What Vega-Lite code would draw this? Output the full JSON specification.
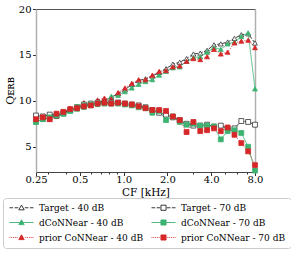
{
  "$schema": "https://vega.github.io/schema/vega-lite/v6.json",
  "width": 219,
  "height": 163,
  "autosize": {"type": "none"},
  "padding": {"left": 36, "top": 9, "right": 36, "bottom": 83},
  "config": {
    "font": "DejaVu Serif",
    "view": {"stroke": "#555", "strokeWidth": 1},
    "axis": {"labelFont": "DejaVu Serif", "labelFontSize": 10, "labelColor": "#000", "titleFont": "DejaVu Serif", "titleFontSize": 11, "titleFontWeight": "normal", "titleColor": "#000", "tickColor": "#333", "domainColor": "#444", "grid": false},
    "legend": {"labelFont": "DejaVu Serif", "labelFontSize": 9, "labelColor": "#000"}
  },
  "data": {"values": [
    {"f":0.25,"T40":8.4,"D40":7.7,"P40":8.0,"T70":8.4,"D70":7.7,"P70":8.0},
    {"f":0.2786,"T40":8.3,"D40":8.0,"P40":8.2,"T70":8.3,"D70":8.0,"P70":8.2},
    {"f":0.3104,"T40":8.5,"D40":8.2,"P40":8.0,"T70":8.5,"D70":8.2,"P70":8.0},
    {"f":0.346,"T40":8.4,"D40":8.4,"P40":8.3,"T70":8.4,"D70":8.4,"P70":8.6},
    {"f":0.3855,"T40":8.6,"D40":8.6,"P40":8.7,"T70":8.7,"D70":8.6,"P70":8.8},
    {"f":0.4296,"T40":9.0,"D40":8.9,"P40":9.2,"T70":9.0,"D70":8.9,"P70":9.1},
    {"f":0.4788,"T40":9.2,"D40":9.1,"P40":9.4,"T70":9.3,"D70":9.3,"P70":9.2},
    {"f":0.5336,"T40":9.5,"D40":9.3,"P40":9.8,"T70":9.6,"D70":9.5,"P70":9.4},
    {"f":0.5946,"T40":9.6,"D40":9.5,"P40":9.5,"T70":9.7,"D70":9.6,"P70":9.5},
    {"f":0.6626,"T40":9.8,"D40":9.6,"P40":10.1,"T70":9.8,"D70":9.7,"P70":9.7},
    {"f":0.7384,"T40":10.0,"D40":9.9,"P40":10.3,"T70":9.8,"D70":9.7,"P70":9.8},
    {"f":0.8229,"T40":10.4,"D40":10.5,"P40":10.2,"T70":9.8,"D70":9.7,"P70":9.7},
    {"f":0.917,"T40":10.8,"D40":10.6,"P40":10.9,"T70":9.8,"D70":9.7,"P70":9.8},
    {"f":1.0219,"T40":11.2,"D40":11.0,"P40":11.4,"T70":9.7,"D70":9.6,"P70":9.7},
    {"f":1.1388,"T40":11.8,"D40":11.4,"P40":11.9,"T70":9.6,"D70":9.5,"P70":9.6},
    {"f":1.2691,"T40":12.2,"D40":11.8,"P40":12.3,"T70":9.5,"D70":9.3,"P70":9.4},
    {"f":1.4142,"T40":12.4,"D40":12.1,"P40":12.3,"T70":9.3,"D70":9.2,"P70":9.2},
    {"f":1.576,"T40":12.7,"D40":12.3,"P40":12.8,"T70":9.0,"D70":8.7,"P70":9.0},
    {"f":1.7563,"T40":13.1,"D40":12.8,"P40":13.2,"T70":8.7,"D70":8.9,"P70":9.0},
    {"f":1.9572,"T40":13.5,"D40":13.2,"P40":13.3,"T70":8.5,"D70":7.9,"P70":8.9},
    {"f":2.181,"T40":14.0,"D40":13.6,"P40":13.7,"T70":8.2,"D70":8.3,"P70":8.3},
    {"f":2.4306,"T40":14.2,"D40":13.7,"P40":13.8,"T70":7.9,"D70":7.7,"P70":7.9},
    {"f":2.7086,"T40":14.6,"D40":14.3,"P40":14.3,"T70":7.5,"D70":7.4,"P70":6.6},
    {"f":3.0185,"T40":15.1,"D40":14.7,"P40":14.6,"T70":7.3,"D70":7.5,"P70":7.7},
    {"f":3.3636,"T40":15.2,"D40":14.8,"P40":14.5,"T70":7.3,"D70":7.3,"P70":6.7},
    {"f":3.7484,"T40":15.5,"D40":15.3,"P40":14.8,"T70":7.4,"D70":7.3,"P70":6.8},
    {"f":4.1771,"T40":16.1,"D40":15.8,"P40":15.6,"T70":7.2,"D70":7.2,"P70":7.0},
    {"f":4.655,"T40":16.2,"D40":15.6,"P40":15.1,"T70":7.3,"D70":5.8,"P70":6.7},
    {"f":5.1874,"T40":16.4,"D40":16.2,"P40":15.3,"T70":7.0,"D70":6.7,"P70":7.1},
    {"f":5.7808,"T40":16.8,"D40":16.4,"P40":16.3,"T70":7.0,"D70":6.8,"P70":6.3},
    {"f":6.442,"T40":17.2,"D40":17.0,"P40":16.5,"T70":7.8,"D70":6.5,"P70":5.4},
    {"f":7.1788,"T40":17.3,"D40":17.4,"P40":16.6,"T70":7.7,"D70":5.0,"P70":4.5},
    {"f":8.0,"T40":16.3,"D40":11.3,"P40":15.8,"T70":7.4,"D70":2.4,"P70":3.0}
  ]},
  "transform": [{"fold": ["T40","D40","P40","T70","D70","P70"], "as": ["s","q"]}],
  "resolve": {
    "scale": {"stroke": "independent", "fill": "independent", "shape": "independent", "strokeDash": "independent"},
    "legend": {"stroke": "independent", "fill": "independent", "shape": "independent", "strokeDash": "independent"},
    "axis": {"x": "independent", "y": "independent"}
  },
  "layer": [
    {
      "mark": {"type": "line", "strokeWidth": 0.9},
      "encoding": {
        "x": {"field": "f", "type": "quantitative", "scale": {"type": "log", "domain": [0.25, 8], "nice": false},
          "axis": {"title": "CF [kHz]", "titleY": 23, "titleBaseline": "alphabetic", "titleFontSize": 10.5, "labelPadding": -1, "labelOverlap": false, "labelFlush": false, "domainColor": "#444",
            "values": [0.25,0.3,0.4,0.5,0.6,0.7,0.8,0.9,1,2,3,4,5,6,7,8],
            "labelExpr": "datum.value==0.25?'0.25':(indexof([0.5,1,2,4,8],datum.value)>=0?format(datum.value,'.1f'):'')",
            "tickSize": {"condition": {"test": "indexof([0.25,0.5,1,2,4,8], datum.value) >= 0", "value": 3.5}, "value": 2}}},
        "y": {"field": "q", "type": "quantitative", "scale": {"domain": [2.25, 20], "nice": false, "zero": false},
          "axis": {"title": "Qᴇʀʙ", "titlePadding": 3, "labelPadding": 1.5, "tickSize": 3.5, "values": [5,10,15,20], "domainColor": "#b0b0b0", "domainWidth": 1.5, "labelFlush": false}},
        "detail": {"field": "s"},
        "stroke": {"field": "s", "type": "nominal", "legend": null,
          "scale": {"domain": ["T40","D40","P40","T70","D70","P70"], "range": ["#222","#3cb371","#d62728","#222","#3cb371","#d62728"]}},
        "strokeDash": {"field": "s", "type": "nominal", "legend": null,
          "scale": {"domain": ["T40","D40","P40","T70","D70","P70"], "range": [[3.5,1.6],[1,0],[1,1.5],[3.5,1.6],[1,0],[1,1.5]]}}
      }
    },
    {
      "mark": {"type": "point", "size": 24, "strokeWidth": 0.8, "opacity": 1},
      "encoding": {
        "x": {"field": "f", "type": "quantitative", "axis": null},
        "y": {"field": "q", "type": "quantitative", "axis": null},
        "shape": {"field": "s", "type": "nominal", "legend": null,
          "scale": {"domain": ["T40","D40","P40","T70","D70","P70"], "range": ["triangle-up","triangle-up","triangle-up","square","square","square"]}},
        "stroke": {"field": "s", "type": "nominal", "legend": null,
          "scale": {"domain": ["T40","D40","P40","T70","D70","P70"], "range": ["#333","#3cb371","#d62728","#333","#3cb371","#d62728"]}},
        "fill": {"field": "s", "type": "nominal", "legend": null,
          "scale": {"domain": ["T40","D40","P40","T70","D70","P70"], "range": ["white","#3cb371","#d62728","white","#3cb371","#d62728"]}}
      }
    },
    {
      "transform": [{"filter": "false"}],
      "mark": {"type": "point", "opacity": 1, "strokeWidth": 0.9},
      "encoding": {
        "x": {"field": "f", "type": "quantitative", "axis": {"orient": "top", "labels": false, "ticks": false, "title": null, "domain": false}},
        "y": {"field": "q", "type": "quantitative", "axis": {"orient": "right", "labels": false, "ticks": false, "title": null, "domainColor": "#b0b0b0", "domainWidth": 1.5}},
        "shape": {"field": "s", "type": "nominal",
          "scale": {"domain": ["T40","D40","P40","T70","D70","P70"], "range": [
            "M-1,0H0.2M0.7,0H1.9M2.1,0.7L3,-0.9L3.9,0.7ZM4.1,0H5.3M5.8,0H7",
            "M-1,0H7M3,-0.9L3.9,0.7H2.1Z",
            "M-1,0H-0.7M-0.4,0H-0.1M0.2,0H0.5M0.8,0H1.1M1.4,0H1.7M3,-0.9L3.9,0.7H2.1ZM4.3,0H4.6M4.9,0H5.2M5.5,0H5.8M6.1,0H6.4M6.7,0H7",
            "M-1,0H0.2M0.7,0H1.9M2.15,-0.85H3.85V0.85H2.15ZM4.1,0H5.3M5.8,0H7",
            "M-1,0H7M2.15,-0.85H3.85V0.85H2.15Z",
            "M-1,0H-0.7M-0.4,0H-0.1M0.2,0H0.5M0.8,0H1.1M1.4,0H1.7M2.15,-0.85H3.85V0.85H2.15ZM4.3,0H4.6M4.9,0H5.2M5.5,0H5.8M6.1,0H6.4M6.7,0H7"
          ]},
          "legend": {"title": null, "orient": "none", "legendX": -33, "legendY": 189, "columns": 2, "columnPadding": 5, "rowPadding": 5, "padding": 5, "symbolSize": 36, "labelOffset": 22, "strokeColor": "#ccc", "cornerRadius": 3, "fillColor": "white", "symbolStrokeWidth": 0.9, "symbolOpacity": 1,
            "labelExpr": "datum.value=='T40'?'Target - 40 dB':datum.value=='T70'?'Target - 70 dB':datum.value=='D40'?'dCoNNear - 40 dB':datum.value=='D70'?'dCoNNear - 70 dB':datum.value=='P40'?'prior CoNNear - 40 dB':'prior CoNNear - 70 dB'"}},
        "stroke": {"field": "s", "type": "nominal",
          "scale": {"domain": ["T40","D40","P40","T70","D70","P70"], "range": ["#222","#3cb371","#d62728","#222","#3cb371","#d62728"]},
          "legend": {"title": null}},
        "fill": {"field": "s", "type": "nominal",
          "scale": {"domain": ["T40","D40","P40","T70","D70","P70"], "range": ["white","#3cb371","#d62728","white","#3cb371","#d62728"]},
          "legend": {"title": null}}
      }
    }
  ]
}
